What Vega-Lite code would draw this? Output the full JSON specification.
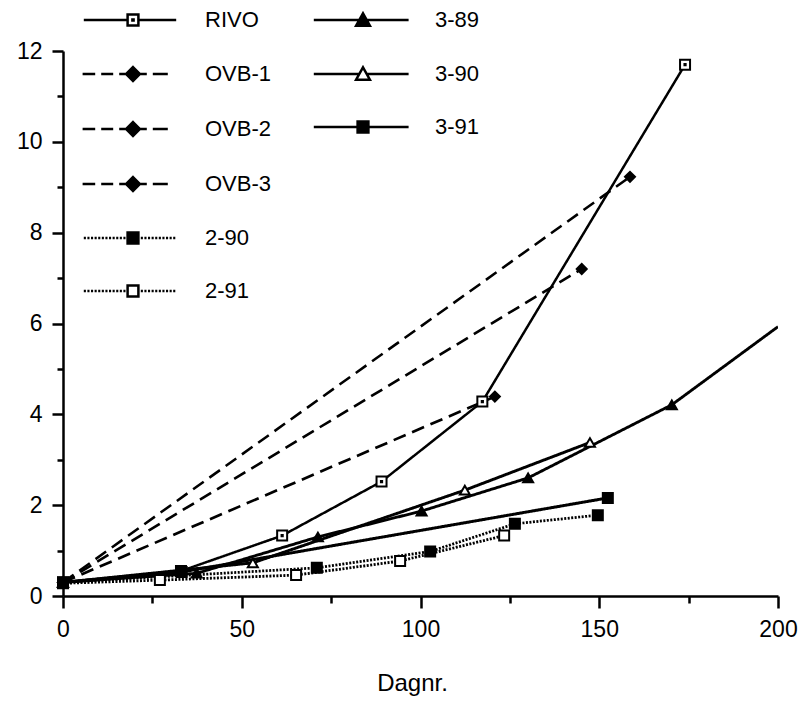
{
  "$schema": "https://vega.github.io/schema/vega-lite/v6.json",
  "width": 715,
  "height": 545,
  "autosize": {"type": "none"},
  "padding": {"left": 63, "top": 51, "right": 29, "bottom": 111},
  "background": "white",
  "config": {
    "view": {"stroke": null},
    "font": "Liberation Sans",
    "axis": {
      "domainColor": "black", "domainWidth": 2.5, "tickColor": "black", "tickWidth": 2.5,
      "labelColor": "black", "labelFont": "Liberation Sans", "labelFontSize": 23, "grid": false,
      "titleFont": "Liberation Sans", "titleFontSize": 24, "titleFontWeight": "normal", "titleColor": "black",
      "labelOverlap": false, "labelFlush": false
    }
  },
  "datasets": {
    "d": [
      {"s": "RIVO", "day": 0, "v": 0.3}, {"s": "RIVO", "day": 33, "v": 0.55}, {"s": "RIVO", "day": 61.3, "v": 1.33}, {"s": "RIVO", "day": 89.1, "v": 2.52}, {"s": "RIVO", "day": 117.3, "v": 4.28}, {"s": "RIVO", "day": 174, "v": 11.7},
      {"s": "OVB-1", "day": 0, "v": 0.3}, {"s": "OVB-1", "day": 158.6, "v": 9.23},
      {"s": "OVB-2", "day": 0, "v": 0.3}, {"s": "OVB-2", "day": 145.1, "v": 7.2},
      {"s": "OVB-3", "day": 0, "v": 0.3}, {"s": "OVB-3", "day": 120.8, "v": 4.39},
      {"s": "2-90", "day": 0, "v": 0.3}, {"s": "2-90", "day": 71, "v": 0.62}, {"s": "2-90", "day": 102.7, "v": 0.98}, {"s": "2-90", "day": 126.4, "v": 1.59}, {"s": "2-90", "day": 149.6, "v": 1.78},
      {"s": "2-91", "day": 0, "v": 0.28}, {"s": "2-91", "day": 27.1, "v": 0.35}, {"s": "2-91", "day": 65.2, "v": 0.46}, {"s": "2-91", "day": 94.3, "v": 0.77}, {"s": "2-91", "day": 123.4, "v": 1.33},
      {"s": "3-89", "day": 0, "v": 0.3}, {"s": "3-89", "day": 37.4, "v": 0.5}, {"s": "3-89", "day": 71.3, "v": 1.3}, {"s": "3-89", "day": 100.3, "v": 1.87}, {"s": "3-89", "day": 130.1, "v": 2.6}, {"s": "3-89", "day": 170.3, "v": 4.21}, {"s": "3-89", "day": 200, "v": 5.93},
      {"s": "3-90", "day": 0, "v": 0.3}, {"s": "3-90", "day": 53.1, "v": 0.73}, {"s": "3-90", "day": 112.4, "v": 2.33}, {"s": "3-90", "day": 147.4, "v": 3.38},
      {"s": "3-91", "day": 0, "v": 0.3}, {"s": "3-91", "day": 33.2, "v": 0.53}, {"s": "3-91", "day": 152.4, "v": 2.16}
    ]
  },
  "layer": [
    {
      "data": {"name": "d"},
      "mark": {"type": "line", "stroke": "black", "clip": true},
      "encoding": {
        "x": {"field": "day", "type": "quantitative", "scale": {"domain": [0, 200], "nice": false},
          "axis": {"values": [0, 25, 50, 75, 100, 125, 150, 175, 200],
            "labelExpr": "datum.value % 50 === 0 ? datum.label : ''",
            "tickSize": {"condition": {"test": "datum.value % 50 === 0", "value": 12}, "value": 7},
            "labelPadding": 10, "title": "Dagnr.", "titlePadding": 30, "titleX": 349}},
        "y": {"field": "v", "type": "quantitative", "scale": {"domain": [0, 12], "nice": false},
          "axis": {"values": [0, 1, 2, 3, 4, 5, 6, 7, 8, 9, 10, 11, 12],
            "labelExpr": "datum.value % 2 === 0 ? datum.label : ''",
            "tickSize": {"condition": {"test": "datum.value % 2 === 0", "value": 11}, "value": 6},
            "labelPadding": 10, "title": null}},
        "detail": {"field": "s", "type": "nominal"},
        "order": {"field": "day", "type": "quantitative"},
        "strokeDash": {"field": "s", "type": "nominal", "legend": null,
          "scale": {"domain": ["RIVO", "OVB-1", "OVB-2", "OVB-3", "2-90", "2-91", "3-89", "3-90", "3-91"],
            "range": [[1, 0], [13, 7], [13, 7], [13, 7], [2, 1.5], [2, 1.5], [1, 0], [1, 0], [1, 0]]}},
        "strokeWidth": {"field": "s", "type": "nominal", "legend": null,
          "scale": {"domain": ["RIVO", "OVB-1", "OVB-2", "OVB-3", "2-90", "2-91", "3-89", "3-90", "3-91"],
            "range": [2.5, 3, 3, 3, 3, 3, 2.5, 2.5, 2.5]}}
      }
    },
    {
      "data": {"name": "d"},
      "transform": [{"filter": "datum.day < 200"}],
      "mark": {"type": "point", "stroke": "black", "strokeWidth": 2, "size": 100, "opacity": 1},
      "encoding": {
        "x": {"field": "day", "type": "quantitative"},
        "y": {"field": "v", "type": "quantitative"},
        "shape": {"field": "s", "type": "nominal", "legend": null,
          "scale": {"domain": ["RIVO", "OVB-1", "OVB-2", "OVB-3", "2-90", "2-91", "3-89", "3-90", "3-91"],
            "range": ["M-1,-1H1V1H-1ZM-0.12,-0.12H0.12V0.12H-0.12Z", "diamond", "diamond", "diamond", "square", "square", "triangle-up", "triangle-up", "square"]}},
        "fill": {"field": "s", "type": "nominal", "legend": null,
          "scale": {"domain": ["RIVO", "OVB-1", "OVB-2", "OVB-3", "2-90", "2-91", "3-89", "3-90", "3-91"],
            "range": ["white", "black", "black", "black", "black", "white", "black", "white", "black"]}}
      }
    },
    {
      "data": {"values": []},
      "mark": {"type": "point", "stroke": "black", "strokeWidth": 2.5, "opacity": 1},
      "encoding": {
        "shape": {"field": "s", "type": "nominal",
          "scale": {"domain": ["RIVO", "OVB-1", "OVB-2", "OVB-3", "2-90", "2-91"],
            "range": [
              "M-8.2,0H-0.9M0.9,0H7.2M-0.9,-0.9H0.9V0.9H-0.9ZM-0.1,-0.1H0.1V0.1H-0.1Z",
              "M-8.4,0H-6.3M-5.3,0H-3.3M-2.3,0H2.3M3.3,0H5.8M0,-1.15L1.15,0L0,1.15L-1.15,0Z",
              "M-8.4,0H-6.3M-5.3,0H-3.3M-2.3,0H2.3M3.3,0H5.8M0,-1.15L1.15,0L0,1.15L-1.15,0Z",
              "M-8.4,0H-6.3M-5.3,0H-3.3M-2.3,0H2.3M3.3,0H5.8M0,-1.15L1.15,0L0,1.15L-1.15,0Z",
              "M-8.2,0h0.35M-7.6,0h0.35M-7,0h0.35M-6.4,0h0.35M-5.8,0h0.35M-5.2,0h0.35M-4.6,0h0.35M-4,0h0.35M-3.4,0h0.35M-2.8,0h0.35M-2.2,0h0.35M-1.6,0h0.35M1.3,0h0.35M1.9,0h0.35M2.5,0h0.35M3.1,0h0.35M3.7,0h0.35M4.3,0h0.35M4.9,0h0.35M5.5,0h0.35M6.1,0h0.35M6.7,0h0.35M-0.9,-0.9H0.9V0.9H-0.9Z",
              "M-8.2,0h0.35M-7.6,0h0.35M-7,0h0.35M-6.4,0h0.35M-5.8,0h0.35M-5.2,0h0.35M-4.6,0h0.35M-4,0h0.35M-3.4,0h0.35M-2.8,0h0.35M-2.2,0h0.35M-1.6,0h0.35M1.3,0h0.35M1.9,0h0.35M2.5,0h0.35M3.1,0h0.35M3.7,0h0.35M4.3,0h0.35M4.9,0h0.35M5.5,0h0.35M6.1,0h0.35M6.7,0h0.35M-0.9,-0.9H0.9V0.9H-0.9Z"
            ]},
          "legend": {"orient": "none", "legendX": 59, "legendY": -42, "title": null, "labelFontSize": 22, "labelFont": "Liberation Sans", "labelColor": "black", "labelOffset": 61, "rowPadding": 31, "symbolSize": 144, "symbolStrokeWidth": 2.5, "symbolStrokeColor": "black", "symbolOpacity": 1, "padding": 0, "labelLimit": 0,
            "encode": {"symbols": {"update": {"stroke": {"value": "black"}, "strokeWidth": {"value": 2.5}, "opacity": {"value": 1}}}}}},
        "fill": {"field": "s", "type": "nominal",
          "scale": {"domain": ["RIVO", "OVB-1", "OVB-2", "OVB-3", "2-90", "2-91"],
            "range": ["white", "black", "black", "black", "black", "white"]},
          "legend": {"orient": "none", "legendX": 59, "legendY": -42, "title": null, "labelFontSize": 22, "labelFont": "Liberation Sans", "labelColor": "black", "labelOffset": 61, "rowPadding": 31, "symbolSize": 144, "symbolStrokeWidth": 2.5, "symbolStrokeColor": "black", "symbolOpacity": 1, "padding": 0, "labelLimit": 0,
            "encode": {"symbols": {"update": {"stroke": {"value": "black"}, "strokeWidth": {"value": 2.5}, "opacity": {"value": 1}}}}}}
      }
    },
    {
      "data": {"values": []},
      "mark": {"type": "point", "stroke": "black", "strokeWidth": 2.5, "opacity": 1},
      "encoding": {
        "shape": {"field": "s", "type": "nominal",
          "scale": {"domain": ["3-89", "3-90", "3-91"],
            "range": [
              "M-8.2,0H7.6M0,-1.1L1.15,0.95H-1.15Z",
              "M-8.2,0H-0.62M0.62,0H7.6M0,-1.1L1.15,0.95H-1.15Z",
              "M-8.2,0H7.6M-0.9,-0.9H0.9V0.9H-0.9Z"
            ]},
          "legend": {"orient": "none", "legendX": 289, "legendY": -42, "title": null, "labelFontSize": 22, "labelFont": "Liberation Sans", "labelColor": "black", "labelOffset": 61, "rowPadding": 31, "symbolSize": 144, "symbolStrokeWidth": 2.5, "symbolStrokeColor": "black", "symbolOpacity": 1, "padding": 0, "labelLimit": 0,
            "encode": {"symbols": {"update": {"stroke": {"value": "black"}, "strokeWidth": {"value": 2.5}, "opacity": {"value": 1}}}}}},
        "fill": {"field": "s", "type": "nominal",
          "scale": {"domain": ["3-89", "3-90", "3-91"], "range": ["black", "white", "black"]},
          "legend": {"orient": "none", "legendX": 289, "legendY": -42, "title": null, "labelFontSize": 22, "labelFont": "Liberation Sans", "labelColor": "black", "labelOffset": 61, "rowPadding": 31, "symbolSize": 144, "symbolStrokeWidth": 2.5, "symbolStrokeColor": "black", "symbolOpacity": 1, "padding": 0, "labelLimit": 0,
            "encode": {"symbols": {"update": {"stroke": {"value": "black"}, "strokeWidth": {"value": 2.5}, "opacity": {"value": 1}}}}}}
      }
    }
  ],
  "resolve": {
    "scale": {"shape": "independent", "fill": "independent", "strokeDash": "independent", "strokeWidth": "independent"},
    "legend": {"shape": "independent", "fill": "independent", "strokeDash": "independent", "strokeWidth": "independent"}
  }
}
